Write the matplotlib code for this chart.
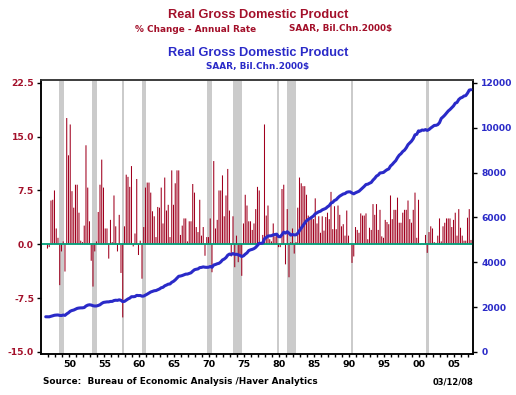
import matplotlib
matplotlib.use('Agg')
import matplotlib.pyplot as plt
import numpy as np

plt.rcParams['font.family'] = 'DejaVu Sans'

# quarterly real GDP, % change annual rate, 1947Q1 - 2007Q4
growth = [
    0.0, -0.6, -0.4, 6.1,      # 1947
    6.2, 7.5, 2.2, 0.9,        # 1948
    -5.7, -1.0, 0.4, -3.8,     # 1949
    17.6, 12.4, 16.7, 7.4,     # 1950
    5.1, 8.3, 8.3, 4.4,        # 1951
    0.5, 0.3, 2.6, 13.8,       # 1952
    7.9, 3.2, -2.3, -5.9,      # 1953
    -1.0, 0.4, 4.5, 8.3,       # 1954
    11.8, 7.9, 2.2, 2.2,       # 1955
    -2.0, 3.4, 0.3, 6.8,       # 1956
    2.5, -1.0, 4.1, -4.0,      # 1957
    -10.2, 2.5, 9.7, 9.4,      # 1958
    8.0, 10.9, -0.3, 1.5,      # 1959
    9.1, -1.5, 0.5, -4.8,      # 1960
    2.4, 7.9, 8.6, 8.6,        # 1961
    7.2, 4.6, 3.9, 1.0,        # 1962
    5.2, 5.1, 7.9, 2.9,        # 1963
    9.3, 4.7, 5.5, 1.0,        # 1964
    10.3, 5.5, 8.5, 10.3,      # 1965
    10.3, 1.3, 2.6, 3.6,       # 1966
    3.6, 0.4, 3.2, 3.2,        # 1967
    8.4, 7.2, 2.4, 1.7,        # 1968
    6.2, 1.2, 2.4, -1.6,       # 1969
    1.0, 1.0, 3.6, -3.9,       # 1970
    11.6, 2.2, 3.4, 7.5,       # 1971
    7.5, 9.6, 3.9, 6.8,        # 1972
    10.5, 4.7, -1.7, 3.9,      # 1973
    -3.2, 1.2, -2.5, -1.6,     # 1974
    -4.4, 2.9, 6.9, 5.4,       # 1975
    3.2, 3.2, 2.0, 2.9,        # 1976
    4.9, 8.0, 7.5, 0.0,        # 1977
    1.3, 16.7, 4.0, 5.4,       # 1978
    0.7, 0.4, 2.9, 1.1,        # 1979
    1.3, -0.4, -0.4, 7.7,      # 1980
    8.3, -2.8, 4.9, -4.6,      # 1981
    0.3, 2.2, -1.3, 0.3,       # 1982
    5.1, 9.3, 8.5, 8.1,        # 1983
    8.1, 6.9, 4.0, 3.4,        # 1984
    3.9, 3.5, 6.4, 2.9,        # 1985
    3.9, 1.6, 3.9, 1.9,        # 1986
    3.8, 4.4, 3.5, 7.3,        # 1987
    2.1, 5.3, 2.1, 5.4,        # 1988
    4.1, 2.5, 2.8, 1.2,        # 1989
    4.7, 1.2, 0.0, -2.6,       # 1990
    -1.7, 2.4, 2.0, 1.6,       # 1991
    4.3, 4.0, 4.0, 4.3,        # 1992
    0.7, 2.3, 2.0, 5.6,        # 1993
    4.1, 5.6, 2.0, 4.8,        # 1994
    1.1, 0.9, 3.4, 3.1,        # 1995
    2.8, 6.8, 3.5, 4.8,        # 1996
    4.8, 6.5, 3.0, 3.0,        # 1997
    4.4, 4.8, 4.8, 6.1,        # 1998
    3.5, 3.0, 4.8, 7.2,        # 1999
    0.9, 6.2, -0.1, 0.1,       # 2000
    -0.1, 1.3, -1.2, 1.7,      # 2001
    2.5, 2.2, 0.3, 0.2,        # 2002
    1.2, 3.6, 0.4, 2.5,        # 2003
    3.0, 3.6, 3.6, 3.6,        # 2004
    2.4, 3.4, 4.4, 1.2,        # 2005
    4.9, 2.3, 1.2, 0.5,        # 2006
    0.5, 3.7, 4.9, 0.6,        # 2007
]

# quarterly real GDP level, SAAR, bil. chained 2000$
level = [
    1565, 1564, 1563, 1587,     # 1947
    1606, 1632, 1641, 1645,     # 1948
    1625, 1621, 1642, 1628,     # 1949
    1693, 1744, 1812, 1845,     # 1950
    1865, 1902, 1940, 1955,     # 1951
    1962, 1964, 1977, 2044,     # 1952
    2084, 2100, 2088, 2057,     # 1953
    2045, 2047, 2070, 2100,     # 1954
    2162, 2205, 2217, 2229,     # 1955
    2230, 2249, 2251, 2289,     # 1956
    2303, 2297, 2321, 2298,     # 1957
    2239, 2253, 2306, 2359,     # 1958
    2396, 2461, 2459, 2468,     # 1959
    2520, 2511, 2514, 2484,     # 1960
    2490, 2530, 2575, 2625,     # 1961
    2670, 2700, 2725, 2735,     # 1962
    2770, 2805, 2859, 2880,     # 1963
    2945, 2979, 3019, 3027,     # 1964
    3103, 3145, 3210, 3291,     # 1965
    3372, 3383, 3405, 3436,     # 1966
    3467, 3470, 3498, 3526,     # 1967
    3599, 3663, 3685, 3700,     # 1968
    3757, 3768, 3790, 3775,     # 1969
    3770, 3775, 3808, 3771,     # 1970
    3875, 3897, 3930, 3950,     # 1971
    4010, 4100, 4140, 4205,     # 1972
    4312, 4362, 4343, 4385,     # 1973
    4345, 4355, 4325, 4300,     # 1974
    4253, 4284, 4357, 4416,     # 1975
    4517, 4551, 4573, 4606,     # 1976
    4662, 4753, 4840, 4840,     # 1977
    4856, 5050, 5100, 5168,     # 1978
    5177, 5182, 5219, 5233,     # 1979
    5250, 5143, 5134, 5230,     # 1980
    5340, 5297, 5360, 5294,     # 1981
    5208, 5237, 5217, 5221,     # 1982
    5287, 5409, 5517, 5632,     # 1983
    5746, 5848, 5906, 5953,     # 1984
    6011, 6063, 6158, 6205,     # 1985
    6250, 6275, 6335, 6365,     # 1986
    6400, 6470, 6525, 6635,     # 1987
    6670, 6755, 6790, 6878,     # 1988
    6948, 6993, 7043, 7060,     # 1989
    7120, 7138, 7138, 7085,     # 1990
    7050, 7096, 7131, 7165,     # 1991
    7240, 7310, 7383, 7466,     # 1992
    7479, 7522, 7559, 7662,     # 1993
    7740, 7842, 7887, 7981,     # 1994
    7990, 8005, 8070, 8125,     # 1995
    8160, 8290, 8360, 8450,     # 1996
    8530, 8665, 8775, 8840,     # 1997
    8938, 8998, 9103, 9243,     # 1998
    9321, 9400, 9512, 9682,     # 1999
    9706, 9858, 9846, 9897,     # 2000
    9885, 9915, 9880, 9919,     # 2001
    9986, 10041, 10101, 10106,  # 2002
    10136, 10225, 10412, 10481, # 2003
    10559, 10651, 10746, 10812, # 2004
    10895, 10971, 11093, 11126, # 2005
    11257, 11324, 11355, 11414, # 2006
    11431, 11539, 11678, 11695, # 2007
]

# recession shading (decimal years)
rec_start = [1949.06, 1953.74, 1957.96, 1960.88, 1970.16, 1973.92, 1980.12, 1981.52, 1990.74, 2001.45]
rec_end = [1949.73, 1954.45, 1958.24, 1961.41, 1970.92, 1975.16, 1980.41, 1982.81, 1991.02, 2001.88]

left_ticks = [-15.0, -7.5, 0.0, 7.5, 15.0, 22.5]
right_ticks = [0, 2000, 4000, 6000, 8000, 10000, 12000]
year_labels = ['50', '55', '60', '65', '70', '75', '80', '85', '90', '95', '00', '05']

red = '#a3102a'
blue = '#2a2ac8'

t = 1947.125 + np.arange(len(growth)) * 0.25

fig = plt.figure(figsize=(5.16, 3.95), dpi=100)
ax = fig.add_axes([41/516, 41/395, 432/516, 274/395])

for s, e in zip(rec_start, rec_end):
    ax.axvspan(s, e, color='#cbcbcb', lw=0, zorder=0)
bars = ax.bar(t, growth, width=0.15, color='#a0001e', lw=0, zorder=2)
for b in bars:
    b.set_snap(False)
ax.axhline(0, color='#00a07a', lw=1.3, zorder=3)

ax.set_xlim(1946.45, 2008.16)
ax.set_ylim(-15.3, 22.9)
ax.set_yticks(left_ticks)
ax.set_yticklabels(['%.1f' % v for v in left_ticks])
ax.tick_params(axis='y', length=3, width=1, labelsize=6.6, labelcolor=red, pad=2)
for lab in ax.get_yticklabels():
    lab.set_fontweight('bold')

ax.set_xticks([1950.5 + 5 * i for i in range(len(year_labels))])
ax.set_xticklabels(year_labels, fontsize=6.8, fontweight='bold')
ax.set_xticks(np.arange(1947.5, 2008, 1.0), minor=True)
ax.tick_params(axis='x', which='both', length=2, width=1, pad=2)

ax2 = ax.twinx()
ax2.plot(t, level, color=blue, lw=2.2, solid_capstyle='round', zorder=5)
ax2.set_ylim(-96, 12128)
ax2.set_yticks(right_ticks)
ax2.set_yticklabels([str(v) for v in right_ticks])
ax2.tick_params(axis='y', length=3, width=1, labelsize=6.6, labelcolor=blue, pad=3)
for lab in ax2.get_yticklabels():
    lab.set_fontweight('bold')

for a in (ax, ax2):
    for sp in a.spines.values():
        sp.set_linewidth(1.1)
        sp.set_color('black')
ax2.spines['top'].set_color('#444444')

tfont = dict(family='Liberation Sans', weight='bold')
fig.text(258/516, 1 - 15/395, 'Real Gross Domestic Product', ha='center', va='center',
         color=red, fontsize=9.2, **tfont)
fig.text(196/516, 1 - 29/395, '% Change - Annual Rate', ha='center', va='center',
         color=red, fontsize=6.4, fontweight='bold')
fig.text(341/516, 1 - 29/395, r'SAAR, Bil.Chn.2000\$', ha='center', va='center',
         color=red, fontsize=6.4, fontweight='bold')
fig.text(258/516, 1 - 53/395, 'Real Gross Domestic Product', ha='center', va='center',
         color=blue, fontsize=9.2, **tfont)
fig.text(258/516, 1 - 67/395, r'SAAR, Bil.Chn.2000\$', ha='center', va='center',
         color=blue, fontsize=6.4, fontweight='bold')
fig.text(43/516, 1 - 382/395, 'Source:  Bureau of Economic Analysis /Haver Analytics',
         ha='left', va='center', color='black', fontsize=6.4, fontweight='bold')
fig.text(473/516, 1 - 382/395, '03/12/08', ha='right', va='center',
         color='black', fontsize=6.0, fontweight='bold')

fig.savefig('out.png', dpi=100)
